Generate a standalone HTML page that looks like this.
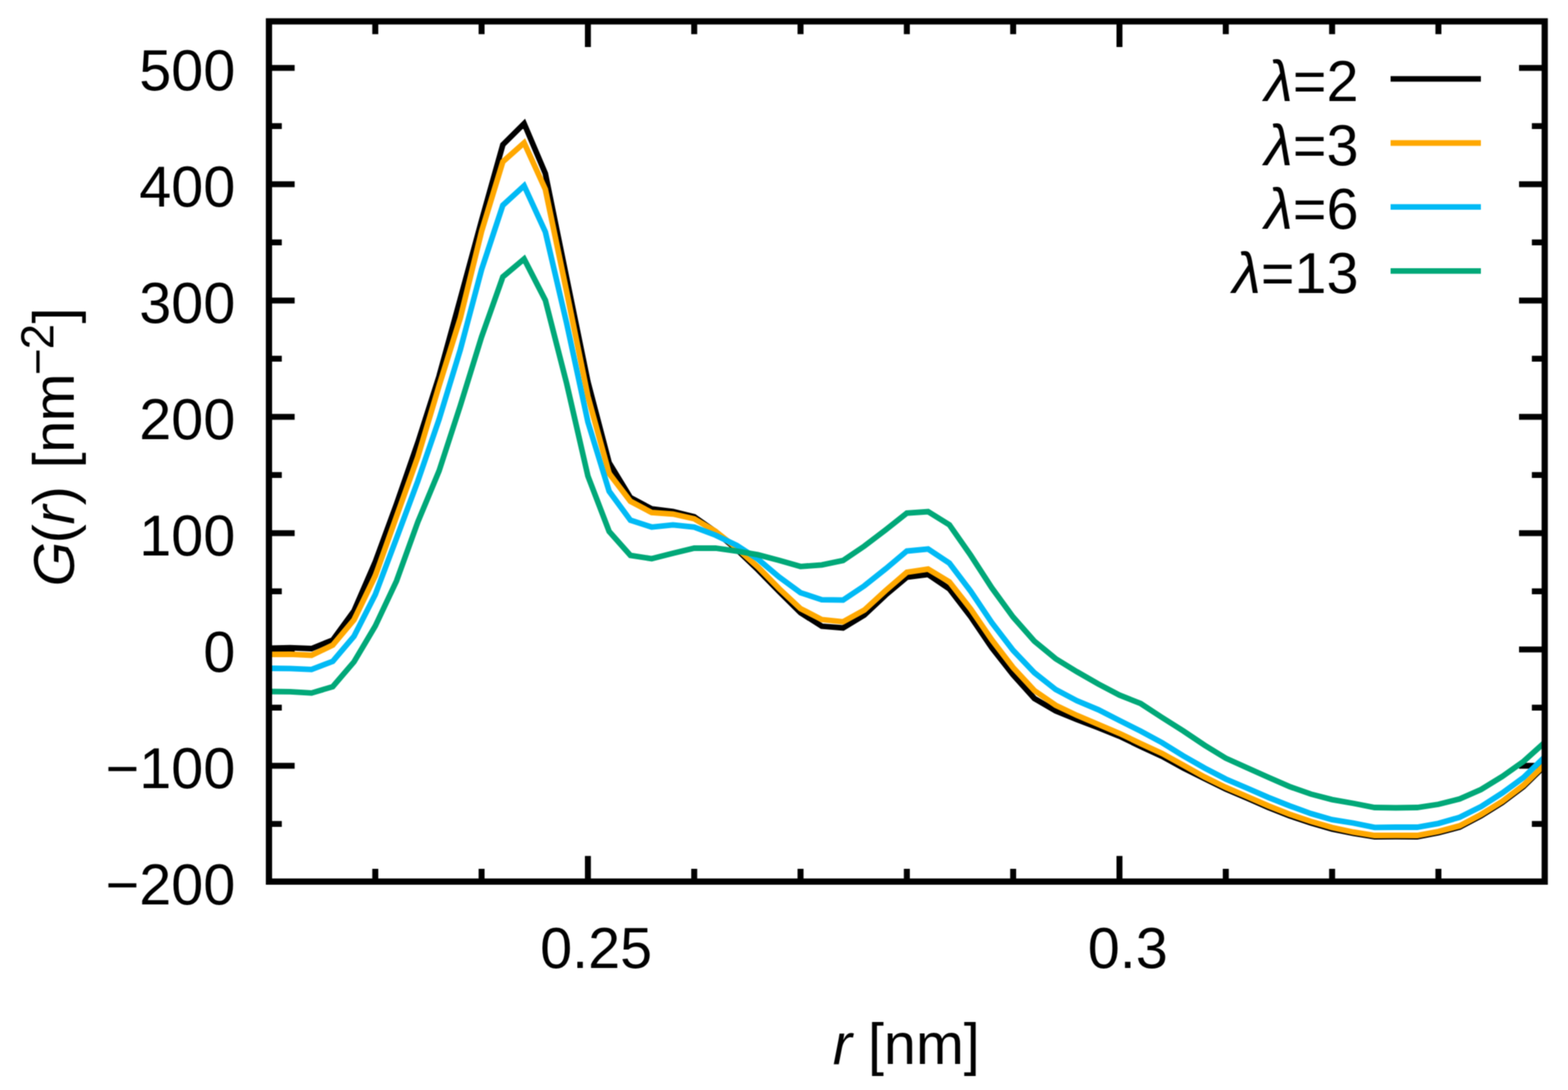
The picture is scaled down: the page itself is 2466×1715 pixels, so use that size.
<!DOCTYPE html>
<html lang="en"><head><meta charset="utf-8"><title>G(r) for different λ</title>
<style>html,body{margin:0;padding:0;background:#fff;overflow:hidden}svg{display:block}text{font-family:"Liberation Sans",sans-serif;fill:#000}.i{font-style:italic}</style>
</head><body>
<svg xmlns="http://www.w3.org/2000/svg" width="2466" height="1715" viewBox="0 0 2466 1715">
<defs><clipPath id="plot"><rect x="423.0" y="33.6" width="2006.4" height="1353.5"/></clipPath><filter id="soft" x="0" y="0" width="100%" height="100%" filterUnits="objectBoundingBox" color-interpolation-filters="sRGB"><feConvolveMatrix order="3" kernelMatrix="0.0625 0.1250 0.0625 0.1250 0.2500 0.1250 0.0625 0.1250 0.0625" divisor="1" edgeMode="duplicate" preserveAlpha="true"/></filter></defs>
<g filter="url(#soft)">
<rect width="2466" height="1715" fill="#fff"/>
<g stroke="#000" stroke-width="9.4" fill="none" stroke-linecap="butt">
<path d="M423.0 1296.4h20.2M2429.4 1296.4h-20.2"/>
<path d="M423.0 1204.9h40.4M2429.4 1204.9h-40.4"/>
<path d="M423.0 1113.4h20.2M2429.4 1113.4h-20.2"/>
<path d="M423.0 1021.9h40.4M2429.4 1021.9h-40.4"/>
<path d="M423.0 930.4h20.2M2429.4 930.4h-20.2"/>
<path d="M423.0 838.9h40.4M2429.4 838.9h-40.4"/>
<path d="M423.0 747.4h20.2M2429.4 747.4h-20.2"/>
<path d="M423.0 655.9h40.4M2429.4 655.9h-40.4"/>
<path d="M423.0 564.4h20.2M2429.4 564.4h-20.2"/>
<path d="M423.0 472.9h40.4M2429.4 472.9h-40.4"/>
<path d="M423.0 381.4h20.2M2429.4 381.4h-20.2"/>
<path d="M423.0 289.9h40.4M2429.4 289.9h-40.4"/>
<path d="M423.0 198.4h20.2M2429.4 198.4h-20.2"/>
<path d="M423.0 106.9h40.4M2429.4 106.9h-40.4"/>
<path d="M590.2 1387.1v-20.2M590.2 33.6v20.2"/>
<path d="M757.4 1387.1v-20.2M757.4 33.6v20.2"/>
<path d="M924.6 1387.1v-40.4M924.6 33.6v40.4"/>
<path d="M1091.8 1387.1v-20.2M1091.8 33.6v20.2"/>
<path d="M1259.0 1387.1v-20.2M1259.0 33.6v20.2"/>
<path d="M1426.2 1387.1v-20.2M1426.2 33.6v20.2"/>
<path d="M1593.4 1387.1v-20.2M1593.4 33.6v20.2"/>
<path d="M1760.6 1387.1v-40.4M1760.6 33.6v40.4"/>
<path d="M1927.8 1387.1v-20.2M1927.8 33.6v20.2"/>
<path d="M2095.0 1387.1v-20.2M2095.0 33.6v20.2"/>
<path d="M2262.2 1387.1v-20.2M2262.2 33.6v20.2"/>
</g>
<g clip-path="url(#plot)" fill="none" stroke-width="8.8" stroke-linejoin="miter" stroke-miterlimit="10" stroke-linecap="butt">
<polyline stroke="#000000" points="423.0,1019.8 456.4,1019.1 489.9,1020.5 523.3,1007.0 556.8,961.0 590.2,884.0 623.6,793.0 657.1,696.5 690.5,592.0 724.0,470.0 757.4,347.0 790.8,227.7 824.3,194.4 857.7,273.0 891.2,437.3 924.6,600.7 958.0,728.0 991.5,783.0 1024.9,800.6 1058.4,804.9 1091.8,813.1 1125.2,836.5 1158.7,864.5 1192.1,896.6 1225.6,930.8 1259.0,964.0 1292.4,985.3 1325.9,988.0 1359.3,967.8 1392.8,936.2 1426.2,908.2 1459.6,903.8 1493.1,926.5 1526.5,970.0 1560.0,1019.5 1593.4,1062.0 1626.8,1099.0 1660.3,1118.6 1693.7,1132.1 1727.2,1144.8 1760.6,1158.4 1794.0,1174.5 1827.5,1189.9 1860.9,1208.3 1894.4,1225.0 1927.8,1241.4 1961.2,1255.8 1994.7,1270.4 2028.1,1283.6 2061.6,1294.9 2095.0,1304.5 2128.4,1311.2 2161.9,1316.5 2195.3,1316.3 2228.8,1316.5 2262.2,1310.3 2295.6,1301.3 2329.1,1283.6 2362.5,1262.9 2396.0,1237.6 2429.4,1205.0"/>
<polyline stroke="#ffa800" points="423.0,1029.6 456.4,1029.4 489.9,1031.0 523.3,1015.0 556.8,975.0 590.2,906.0 623.6,812.6 657.1,719.0 690.5,607.0 724.0,500.0 757.4,364.0 790.8,254.5 824.3,224.7 857.7,298.0 891.2,459.0 924.6,623.6 958.0,745.0 991.5,788.7 1024.9,806.4 1058.4,808.8 1091.8,816.3 1125.2,836.0 1158.7,862.4 1192.1,892.2 1225.6,926.4 1259.0,957.6 1292.4,974.8 1325.9,978.3 1359.3,959.9 1392.8,929.2 1426.2,900.3 1459.6,895.4 1493.1,915.6 1526.5,958.0 1560.0,1007.0 1593.4,1050.5 1626.8,1086.5 1660.3,1109.6 1693.7,1125.6 1727.2,1139.8 1760.6,1153.9 1794.0,1170.0 1827.5,1185.4 1860.9,1203.8 1894.4,1222.5 1927.8,1238.9 1961.2,1253.3 1994.7,1267.9 2028.1,1281.1 2061.6,1292.4 2095.0,1302.0 2128.4,1309.2 2161.9,1314.5 2195.3,1314.3 2228.8,1314.5 2262.2,1308.3 2295.6,1299.3 2329.1,1281.6 2362.5,1260.9 2396.0,1235.6 2429.4,1203.0"/>
<polyline stroke="#00baf5" points="423.0,1051.5 456.4,1051.9 489.9,1053.3 523.3,1040.5 556.8,1001.0 590.2,935.5 623.6,846.9 657.1,757.0 690.5,660.0 724.0,550.0 757.4,424.0 790.8,322.9 824.3,292.2 857.7,365.0 891.2,508.7 924.6,664.0 958.0,772.9 991.5,818.5 1024.9,829.3 1058.4,825.8 1091.8,829.3 1125.2,842.0 1158.7,858.1 1192.1,879.9 1225.6,908.0 1259.0,932.6 1292.4,943.6 1325.9,944.2 1359.3,921.8 1392.8,895.0 1426.2,867.0 1459.6,863.8 1493.1,886.0 1526.5,930.0 1560.0,980.0 1593.4,1023.4 1626.8,1058.5 1660.3,1084.9 1693.7,1102.6 1727.2,1116.6 1760.6,1133.7 1794.0,1150.3 1827.5,1168.5 1860.9,1189.2 1894.4,1208.4 1927.8,1225.7 1961.2,1240.0 1994.7,1254.6 2028.1,1267.8 2061.6,1280.1 2095.0,1289.7 2128.4,1295.0 2161.9,1301.9 2195.3,1301.5 2228.8,1301.5 2262.2,1295.6 2295.6,1286.0 2329.1,1269.1 2362.5,1247.8 2396.0,1223.4 2429.4,1191.0"/>
<polyline stroke="#00a878" points="423.0,1088.0 456.4,1088.3 489.9,1090.4 523.3,1080.4 556.8,1041.3 590.2,985.0 623.6,914.0 657.1,821.3 690.5,741.0 724.0,638.0 757.4,530.0 790.8,435.7 824.3,407.4 857.7,472.4 891.2,603.4 924.6,749.0 958.0,836.1 991.5,873.8 1024.9,879.1 1058.4,870.4 1091.8,862.5 1125.2,862.5 1158.7,867.2 1192.1,872.9 1225.6,881.7 1259.0,891.3 1292.4,888.8 1325.9,881.9 1359.3,859.3 1392.8,833.7 1426.2,807.3 1459.6,805.1 1493.1,825.8 1526.5,873.5 1560.0,925.2 1593.4,971.0 1626.8,1008.8 1660.3,1036.4 1693.7,1056.9 1727.2,1076.1 1760.6,1093.7 1794.0,1107.0 1827.5,1128.9 1860.9,1150.0 1894.4,1172.5 1927.8,1192.9 1961.2,1208.0 1994.7,1223.1 2028.1,1237.6 2061.6,1249.4 2095.0,1258.1 2128.4,1264.0 2161.9,1270.5 2195.3,1271.0 2228.8,1270.5 2262.2,1265.5 2295.6,1257.0 2329.1,1242.3 2362.5,1221.8 2396.0,1198.0 2429.4,1168.0"/>
</g>
<rect x="423.0" y="33.6" width="2006.4" height="1353.5" fill="none" stroke="#000" stroke-width="9.8"/>
<line x1="2187" y1="124.2" x2="2329" y2="124.2" stroke="#000000" stroke-width="8.8"/>
<text x="2136.5" y="158.7" font-size="90.5" text-anchor="end"><tspan class="i">λ</tspan>=2</text>
<line x1="2187" y1="225" x2="2329" y2="225" stroke="#ffa800" stroke-width="8.8"/>
<text x="2136.5" y="259.5" font-size="90.5" text-anchor="end"><tspan class="i">λ</tspan>=3</text>
<line x1="2187" y1="325.6" x2="2329" y2="325.6" stroke="#00baf5" stroke-width="8.8"/>
<text x="2136.5" y="360.1" font-size="90.5" text-anchor="end"><tspan class="i">λ</tspan>=6</text>
<line x1="2187" y1="426.4" x2="2329" y2="426.4" stroke="#00a878" stroke-width="8.8"/>
<text x="2136.5" y="460.9" font-size="90.5" text-anchor="end"><tspan class="i">λ</tspan>=13</text>
<text x="370" y="1422.7" font-size="90.5" text-anchor="end">−200</text>
<text x="370" y="1239.7" font-size="90.5" text-anchor="end">−100</text>
<text x="370" y="1056.7" font-size="90.5" text-anchor="end">0</text>
<text x="370" y="873.7" font-size="90.5" text-anchor="end">100</text>
<text x="370" y="690.7" font-size="90.5" text-anchor="end">200</text>
<text x="370" y="507.7" font-size="90.5" text-anchor="end">300</text>
<text x="370" y="324.7" font-size="90.5" text-anchor="end">400</text>
<text x="370" y="141.7" font-size="90.5" text-anchor="end">500</text>
<text x="937.6" y="1522.5" font-size="90.5" text-anchor="middle">0.25</text>
<text x="1773.6" y="1522.5" font-size="90.5" text-anchor="middle">0.3</text>
<text x="1425.3" y="1674.2" font-size="90.5" text-anchor="middle"><tspan class="i">r</tspan> [nm]</text>
<text transform="translate(116.4 704.5) rotate(-90)" font-size="90.5" x="-218.27 -150.37 -120.73 -90.59 -61.46 -32.62 -7.66 41.46 114.07 154.74 195.62"><tspan class="i">G</tspan>(<tspan class="i">r</tspan>) [nm<tspan font-size="72.4" dy="-32.6">−2</tspan><tspan dy="32.6">]</tspan></text>
</g>
</svg>
</body></html>
